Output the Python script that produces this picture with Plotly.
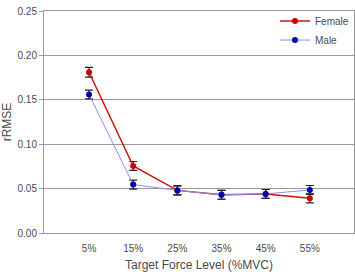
import plotly.graph_objects as go

levels = ["5%", "15%", "25%", "35%", "45%", "55%"]
female = [0.181, 0.0755, 0.048, 0.043, 0.044, 0.039]
female_err = [0.0055, 0.005, 0.005, 0.005, 0.005, 0.005]
male = [0.156, 0.0545, 0.048, 0.043, 0.044, 0.0485]
male_err = [0.005, 0.005, 0.005, 0.005, 0.005, 0.005]

xpos = list(range(len(levels)))
font = dict(family="Liberation Sans, Arial, sans-serif", size=10, color="#4a4a4a")

fig = go.Figure()
fig.add_trace(go.Scatter(
    x=xpos, y=female, name="Female", mode="lines+markers",
    line=dict(color="#cc1111", width=1.5),
    marker=dict(color="#cc0000", size=6),
    error_y=dict(type="data", array=female_err, color="#222222", thickness=1.2, width=4),
))
fig.add_trace(go.Scatter(
    x=xpos, y=male, name="Male", mode="lines+markers",
    line=dict(color="#8c8cea", width=1),
    marker=dict(color="#0000b0", size=6),
    error_y=dict(type="data", array=male_err, color="#222222", thickness=1.2, width=4),
))

fig.update_layout(
    width=355, height=272,
    margin=dict(l=44, r=1, t=11, b=39),
    paper_bgcolor="white", plot_bgcolor="white",
    font=font,
    showlegend=True,
    legend=dict(x=1.0, y=1.02, xanchor="right", yanchor="top",
                bgcolor="rgba(0,0,0,0)", font=dict(size=10, color="#4a4a4a"),
                tracegroupgap=0, itemwidth=30),
)
fig.update_xaxes(
    range=[-1.02, 6.0], tickvals=xpos, ticktext=levels,
    showgrid=False, zeroline=False,
    showline=True, linecolor="#999999", linewidth=1, mirror=True,
    ticks="", ticklabelstandoff=6,
    title=dict(text="Target Force Level (%MVC)", standoff=10),
)
fig.update_yaxes(
    range=[0, 0.25], dtick=0.05, tickformat=".2f",
    showgrid=True, gridcolor="#999999", gridwidth=1, zeroline=False,
    showline=True, linecolor="#999999", linewidth=1, mirror=True,
    ticks="outside", ticklen=4, tickcolor="#999999",
    title=dict(text="rRMSE", standoff=6),
)

fig.write_html("out.html")
